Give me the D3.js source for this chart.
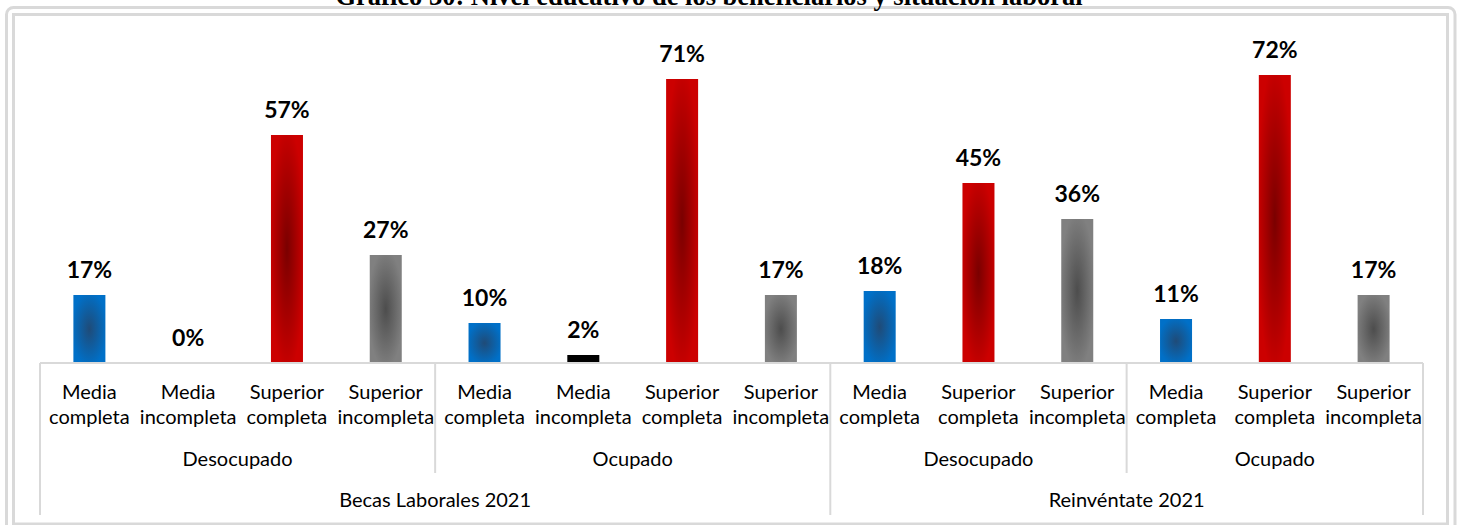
<!DOCTYPE html>
<html>
<head>
<meta charset="utf-8">
<script src="https://cdn.jsdelivr.net/npm/d3@7"></script>
<style>
  html, body { margin: 0; padding: 0; background: #ffffff; }
  svg { display: block; }
</style>
</head>
<body>
<svg id="chart" width="1459" height="525"></svg>
<script>
// Nivel educativo por programa y situación laboral
const programs   = ["Becas Laborales 2021", "Reinvéntate 2021"];
const situations = ["Desocupado", "Ocupado", "Desocupado", "Ocupado"];
const situationProgram = [0, 0, 1, 1];
const levels = [
  "Media completa", "Media incompleta", "Superior completa", "Superior incompleta",
  "Media completa", "Media incompleta", "Superior completa", "Superior incompleta",
  "Media completa", "Superior completa", "Superior incompleta",
  "Media completa", "Superior completa", "Superior incompleta"
];
const levelSituation = [0, 0, 0, 0, 1, 1, 1, 1, 2, 2, 2, 3, 3, 3];
const values = [17, 0, 57, 27, 10, 2, 71, 17, 18, 45, 36, 11, 72, 17];
const titleText = "Gráfico 30: Nivel educativo de los beneficiarios y situación laboral";

const svg = d3.select("#chart");
const axisColor = "#d9d9d9";
const font = "Lato, 'Open Sans', sans-serif";

// marco exterior doble
svg.append("rect").attr("x", 6.5).attr("y", 7.5).attr("width", 1448.5).attr("height", 530)
  .attr("rx", 7).attr("fill", "none").attr("stroke", axisColor).attr("stroke-width", 3);
svg.append("rect").attr("x", 13.5).attr("y", 14.5).attr("width", 1434).attr("height", 509.5)
  .attr("fill", "none").attr("stroke", axisColor).attr("stroke-width", 3);

// título (parcialmente fuera del lienzo)
svg.append("text").attr("x", 709).attr("y", 5).attr("text-anchor", "middle")
  .attr("font-family", "'Liberation Serif', 'Times New Roman', serif")
  .attr("font-weight", "bold").attr("font-size", 26.5).attr("fill", "#000")
  .text(titleText);

const x0 = 40, x1 = 1423, yBase = 363;
const pad = 0.676;
const x = d3.scaleBand().domain(d3.range(levels.length)).range([x0, x1])
  .paddingInner(pad).paddingOuter(pad / 2);
const y = d3.scaleLinear().domain([0, 80]).range([yBase, 43]);
const step = x.step();

// gradientes de trayectoria (centro oscuro)
const defs = svg.append("defs");
const palette = {
  blue: ["#1f4b78", "#0070c8"],
  red:  ["#7a0000", "#cc0000"],
  gray: ["#4d4d4d", "#808080"],
  black: ["#000000", "#000000"]
};
Object.entries(palette).forEach(([k, [c0, c1]]) => {
  const g = defs.append("radialGradient").attr("id", "g-" + k)
    .attr("cx", "50%").attr("cy", "50%").attr("r", "55%");
  g.append("stop").attr("offset", "0%").attr("stop-color", c0);
  g.append("stop").attr("offset", "100%").attr("stop-color", c1);
});
function colorKey(i) {
  const l = levels[i];
  if (l === "Media completa") return "blue";
  if (l === "Media incompleta") return "black";
  if (l === "Superior completa") return "red";
  return "gray";
}

// barras
svg.append("g").selectAll("rect").data(values).join("rect")
  .attr("x", (d, i) => x(i))
  .attr("y", d => y(d))
  .attr("width", x.bandwidth())
  .attr("height", d => yBase - y(d))
  .attr("fill", (d, i) => "url(#g-" + colorKey(i) + ")");

// etiquetas de valor
svg.append("g").selectAll("text").data(values).join("text")
  .attr("x", (d, i) => x(i) + x.bandwidth() / 2)
  .attr("y", d => y(d) - 17)
  .attr("text-anchor", "middle")
  .attr("font-family", font).attr("font-weight", "bold").attr("font-size", 23)
  .attr("fill", "#000")
  .text(d => d + "%");

// eje de categorías multinivel
const axis = svg.append("g").attr("stroke", axisColor).attr("stroke-width", 2);
axis.append("line").attr("x1", x0).attr("x2", x1).attr("y1", yBase).attr("y2", yBase);

// límites de grupos
const sitStart = situations.map((s, k) => levelSituation.indexOf(k));
const sitEnd = situations.map((s, k) => levelSituation.lastIndexOf(k) + 1);
const progStart = programs.map((p, k) => sitStart[situationProgram.indexOf(k)]);
const progEnd = programs.map((p, k) => sitEnd[situationProgram.lastIndexOf(k)]);
const edge = i => x0 + i * step;

const progEdges = Array.from(new Set(progStart.concat(progEnd)));
progEdges.forEach(i => {
  axis.append("line").attr("x1", edge(i)).attr("x2", edge(i)).attr("y1", yBase).attr("y2", 515);
});
sitStart.forEach(i => {
  if (progEdges.includes(i)) return;
  axis.append("line").attr("x1", edge(i)).attr("x2", edge(i)).attr("y1", yBase).attr("y2", 473);
});

const labels = svg.append("g").attr("font-family", font).attr("font-size", 20)
  .attr("fill", "#000").attr("text-anchor", "middle");
levels.forEach((l, i) => {
  const parts = l.split(" ");
  const cx = x(i) + x.bandwidth() / 2;
  const t = labels.append("text").attr("x", cx);
  t.append("tspan").attr("x", cx).attr("y", 399).text(parts[0]);
  t.append("tspan").attr("x", cx).attr("y", 424).text(parts[1]);
});
situations.forEach((s, k) => {
  labels.append("text").attr("x", (edge(sitStart[k]) + edge(sitEnd[k])) / 2).attr("y", 466).text(s);
});
programs.forEach((p, k) => {
  labels.append("text").attr("x", (edge(progStart[k]) + edge(progEnd[k])) / 2).attr("y", 507).text(p);
});
</script>
</body>
</html>
